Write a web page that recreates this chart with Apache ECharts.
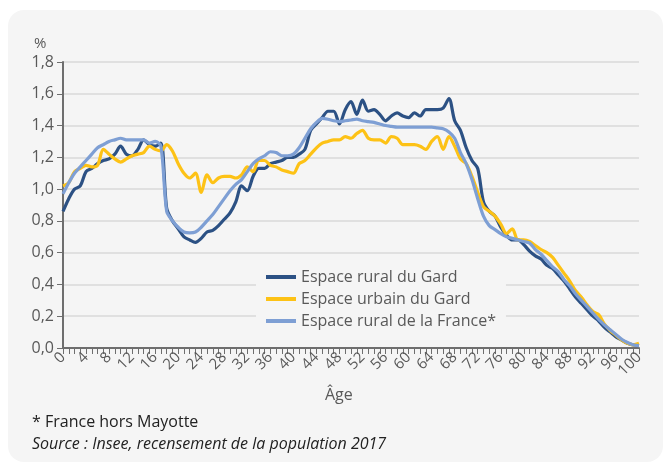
<!DOCTYPE html>
<html>
<head>
<meta charset="utf-8">
<script src="https://cdn.jsdelivr.net/npm/echarts@6/dist/echarts.min.js"></script>
<style>
html,body{margin:0;padding:0;background:#fff;}
#chart{width:663px;height:466px;}
</style>
</head>
<body>
<div id="chart"></div>
<script>
// âges 0 à 100 ans
var ages = [];
for (var a = 0; a <= 100; a++) ages.push(String(a));

// part de la population par âge (%)
var ruralGard = [
	0.86,0.94,1.00,1.02,1.11,1.13,1.16,1.18,1.19,1.22,
	1.27,1.22,1.21,1.25,1.31,1.28,1.27,1.29,0.88,0.80,
	0.75,0.70,0.68,0.665,0.69,0.73,0.74,0.77,0.81,0.85,
	0.92,1.02,0.99,1.08,1.13,1.13,1.16,1.17,1.18,1.20,
	1.20,1.22,1.25,1.37,1.41,1.45,1.49,1.49,1.41,1.50,
	1.55,1.47,1.56,1.49,1.50,1.47,1.43,1.46,1.48,1.46,
	1.45,1.48,1.46,1.50,1.50,1.50,1.51,1.57,1.43,1.37,
	1.26,1.18,1.13,0.92,0.86,0.83,0.76,0.71,0.68,0.68,
	0.65,0.61,0.58,0.56,0.52,0.50,0.46,0.42,0.37,0.32,
	0.28,0.24,0.20,0.17,0.13,0.10,0.07,0.05,0.03,0.02,
	0.02
];
var urbainGard = [
	1.02,1.04,1.11,1.13,1.15,1.14,1.15,1.25,1.22,1.19,
	1.17,1.19,1.21,1.22,1.23,1.27,1.25,1.24,1.28,1.24,
	1.16,1.10,1.07,1.10,0.98,1.09,1.04,1.07,1.08,1.08,
	1.07,1.09,1.14,1.11,1.18,1.18,1.15,1.14,1.12,1.11,
	1.10,1.16,1.18,1.22,1.26,1.29,1.30,1.31,1.31,1.33,
	1.32,1.35,1.37,1.32,1.31,1.31,1.29,1.33,1.32,1.28,
	1.28,1.28,1.27,1.25,1.30,1.33,1.25,1.33,1.27,1.19,
	1.16,1.08,0.98,0.89,0.86,0.83,0.78,0.72,0.75,0.68,
	0.68,0.67,0.645,0.62,0.60,0.57,0.52,0.47,0.42,0.36,
	0.32,0.27,0.23,0.21,0.15,0.11,0.08,0.05,0.03,0.02,
	0.03
];
var ruralFrance = [
	0.97,1.04,1.10,1.14,1.18,1.22,1.26,1.28,1.30,1.31,
	1.32,1.31,1.31,1.31,1.31,1.29,1.30,1.27,0.86,0.80,
	0.76,0.73,0.725,0.73,0.76,0.80,0.84,0.89,0.94,0.99,
	1.03,1.06,1.11,1.16,1.19,1.21,1.235,1.23,1.21,1.21,
	1.22,1.26,1.32,1.38,1.42,1.445,1.44,1.43,1.425,1.43,
	1.435,1.44,1.43,1.425,1.42,1.41,1.40,1.395,1.39,1.39,
	1.39,1.39,1.39,1.39,1.39,1.385,1.38,1.36,1.32,1.23,
	1.16,1.06,0.94,0.83,0.77,0.745,0.72,0.70,0.69,0.68,
	0.67,0.66,0.62,0.59,0.55,0.51,0.48,0.43,0.39,0.34,
	0.30,0.26,0.22,0.18,0.145,0.115,0.085,0.055,0.035,0.02,
	0.015
];

var txt = '#595959';
var font = '"Open Sans", "Noto Sans", sans-serif';

function ligne(nom, data, couleur) {
	return {
		name: nom,
		type: 'line',
		data: data,
		smooth: 0.3,
		showSymbol: false,
		symbol: 'none',
		lineStyle: { width: 3.2, color: couleur },
		itemStyle: { color: couleur },
		emphasis: { disabled: true }
	};
}

var option = {
	animation: false,
	backgroundColor: '#ffffff',
	textStyle: { fontFamily: font },
	graphic: [
		{ type: 'rect', z: -10, shape: { x: 8, y: 10, width: 655, height: 452, r: 16 }, style: { fill: '#f5f5f5' } },
		{ type: 'text', left: 34, top: 36, style: { text: '%', fill: txt, font: '15px ' + font } },
		{ type: 'text', left: 325, top: 387, style: { text: 'Âge', fill: txt, font: '16px ' + font } },
		{ type: 'text', left: 32, top: 414, style: { text: '* France hors Mayotte', fill: '#222', font: '16px ' + font } },
		{ type: 'text', left: 32, top: 436, style: { text: 'Source : Insee, recensement de la population 2017', fill: '#222', font: 'italic 16px ' + font } }
	],
	grid: { left: 63, right: 24, top: 62, bottom: 118 },
	legend: {
		orient: 'vertical',
		left: 256,
		top: 265,
		padding: [4, 10, 4, 10],
		backgroundColor: '#f5f5f5',
		itemWidth: 30,
		itemHeight: 4,
		itemGap: 6,
		icon: 'rect',
		textStyle: { color: txt, fontSize: 16, fontFamily: font },
		data: ['Espace rural du Gard', 'Espace urbain du Gard', 'Espace rural de la France*']
	},
	xAxis: {
		type: 'category',
		boundaryGap: false,
		data: ages,
		axisLine: { lineStyle: { color: '#6e6e6e', width: 2 } },
		axisTick: { show: true, interval: 0, length: 6, lineStyle: { color: '#6e6e6e' } },
		axisLabel: { interval: 3, rotate: 45, color: txt, fontSize: 15, margin: 7 },
		splitLine: { show: false }
	},
	yAxis: {
		type: 'value',
		min: 0,
		max: 1.8,
		interval: 0.2,
		axisLine: { show: true, lineStyle: { color: '#6e6e6e', width: 2 } },
		axisTick: { show: true, length: 6, lineStyle: { color: '#6e6e6e' } },
		axisLabel: {
			color: txt, fontSize: 16, margin: 9,
			formatter: function (v) { return v.toFixed(1).replace('.', ','); }
		},
		splitLine: { lineStyle: { color: '#d9d9d9', width: 1.5 } }
	},
	series: [
		ligne('Espace rural du Gard', ruralGard, '#2c5184'),
		ligne('Espace urbain du Gard', urbainGard, '#fdc216'),
		ligne('Espace rural de la France*', ruralFrance, '#7e9fd4')
	]
};

var mCharts = echarts.init(document.getElementById('chart'));
mCharts.setOption(option);
</script>
</body>
</html>
